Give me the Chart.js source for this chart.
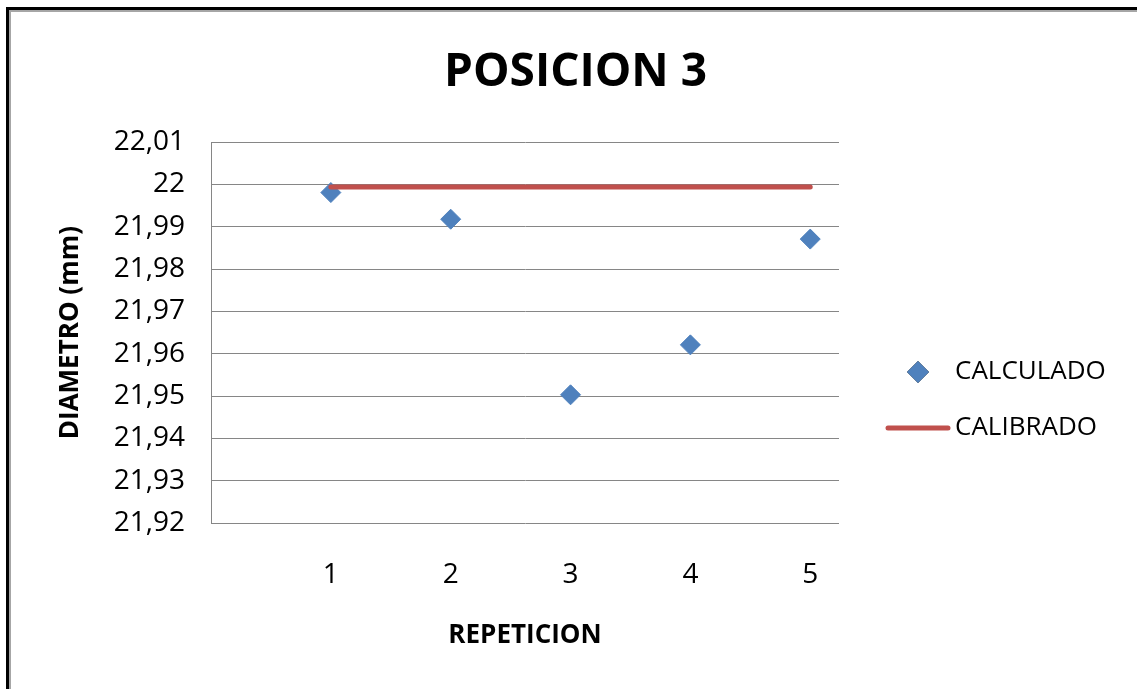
<!DOCTYPE html>
<html>
<head>
<meta charset="utf-8">
<title>POSICION 3</title>
<script src="https://cdn.jsdelivr.net/npm/chart.js@4/dist/chart.umd.min.js"></script>
<style>
  html, body { margin: 0; padding: 0; background: #fff; overflow: hidden; }
  #wrap { position: relative; width: 1137px; height: 689px; }
  #chart { position: absolute; left: 0; top: 0; }
  .frame { position: absolute; pointer-events: none; right: -20px; bottom: -20px; }
</style>
</head>
<body>
<div id="wrap">
  <canvas id="chart" width="1137" height="689"></canvas>
  <div class="frame" style="left:6px;top:7px;border-left:3px solid #000;border-top:3px solid #000;"></div>
  <div class="frame" style="left:9px;top:10px;border-left:2px solid #a6a6a6;border-top:2px solid #a6a6a6;"></div>
</div>
<script>
// data
const repeticion = [1, 2, 3, 4, 5];
const calculado = [21.9981, 21.9918, 21.9503, 21.9621, 21.9871];
const calibrado = [21.9994, 21.9994, 21.9994, 21.9994, 21.9994];
const yTicks = [21.92, 21.93, 21.94, 21.95, 21.96, 21.97, 21.98, 21.99, 22.00, 22.01];
const xTicks = [1, 2, 3, 4, 5];

const BLUE = '#4F81BD';
const RED = '#C0504D';
const GRID = '#868686';
const FONT = '"Open Sans", "DejaVu Sans", sans-serif';

function fmt(v) {
    return String(+v.toFixed(2)).replace('.', ',');
}

// legend drawn by hand, Excel style (mark centred left of the text)
const excelLegend = {
    id: 'excelLegend',
    afterDraw(chart) {
        const ctx = chart.ctx;
        const textX = 955;
        const markX = 918;
        const rows = [372, 428];
        ctx.save();
        ctx.font = '26px ' + FONT;
        ctx.fillStyle = '#000';
        ctx.textBaseline = 'middle';
        ctx.textAlign = 'left';
        chart.data.datasets.forEach((ds, i) => {
            const y = rows[i];
            if (ds.showLine === false) {
                Chart.helpers.drawPoint(ctx, {
                    pointStyle: 'rectRot', radius: 11, borderWidth: 0
                }, markX, y);
                ctx.fillStyle = ds.backgroundColor;
                ctx.fill();
            } else {
                ctx.beginPath();
                ctx.strokeStyle = ds.borderColor;
                ctx.lineWidth = ds.borderWidth;
                ctx.lineCap = 'round';
                ctx.moveTo(markX - 30, y);
                ctx.lineTo(markX + 30, y);
                ctx.stroke();
            }
            ctx.fillStyle = '#000';
            ctx.fillText(ds.label, textX, y);
        });
        ctx.restore();
    }
};

const ctx = document.getElementById('chart');

const data = {
    datasets: [
        {
            label: 'CALCULADO',
            data: repeticion.map((x, i) => ({x: x, y: calculado[i]})),
            showLine: false,
            pointStyle: 'rectRot',
            pointRadius: 10,
            pointHoverRadius: 10,
            borderWidth: 1,
            backgroundColor: BLUE,
            borderColor: BLUE,
            order: 2
        },
        {
            label: 'CALIBRADO',
            data: repeticion.map((x, i) => ({x: x, y: calibrado[i]})),
            showLine: true,
            borderColor: RED,
            backgroundColor: RED,
            borderWidth: 5,
            borderCapStyle: 'round',
            pointRadius: 0,
            pointHoverRadius: 0,
            order: 1
        }
    ]
};

const config = {
    type: 'scatter',
    data: data,
    plugins: [excelLegend],
    options: {
        responsive: false,
        animation: false,
        events: [],
        layout: {
            padding: { left: 14, right: 0, top: 0, bottom: 0 }
        },
        plugins: {
            legend: { display: false },
            tooltip: { enabled: false },
            title: {
                display: true,
                text: 'POSICION 3',
                color: '#000',
                font: { family: FONT, size: 46, weight: 'bold', lineHeight: 1.2 },
                padding: { top: 45, bottom: 42 }
            }
        },
        scales: {
            x: {
                type: 'linear',
                position: 'bottom',
                min: 0,
                max: 5.24,
                afterBuildTicks: (scale) => {
                    scale.ticks = xTicks.map(v => ({value: v}));
                },
                afterFit: (scale) => { scale.height = 166; },
                grid: { display: false, drawTicks: false, tickLength: 0 },
                border: { display: false },
                ticks: {
                    color: '#000',
                    padding: 35,
                    maxRotation: 0,
                    font: { family: FONT, size: 28 },
                    callback: (v) => String(v)
                },
                title: {
                    display: true,
                    text: 'REPETICION',
                    color: '#000',
                    font: { family: FONT, size: 26, weight: 'bold', lineHeight: 1.2 },
                    padding: { top: 0, bottom: 38 }
                }
            },
            y: {
                position: 'left',
                min: 21.92,
                max: 22.01,
                afterBuildTicks: (scale) => {
                    scale.ticks = yTicks.map(v => ({value: v}));
                },
                afterFit: (scale) => { scale.width = 197; },
                grid: { color: GRID, lineWidth: 1, drawTicks: false, tickLength: 0 },
                border: { display: true, color: GRID, width: 1 },
                ticks: {
                    color: '#000',
                    padding: 26,
                    font: { family: FONT, size: 28 },
                    callback: (v) => fmt(v)
                },
                title: {
                    display: true,
                    text: 'DIAMETRO (mm)',
                    color: '#000',
                    font: { family: FONT, size: 26, weight: 'bold', lineHeight: 1.2 },
                    padding: { top: 41, bottom: 0 }
                }
            },
            side: {
                position: 'right',
                display: true,
                afterFit: (scale) => { scale.width = 298; },
                grid: { display: false, drawTicks: false },
                border: { display: false },
                ticks: { display: false }
            }
        }
    }
};

let myChart = new Chart(ctx, config);
</script>
</body>
</html>
